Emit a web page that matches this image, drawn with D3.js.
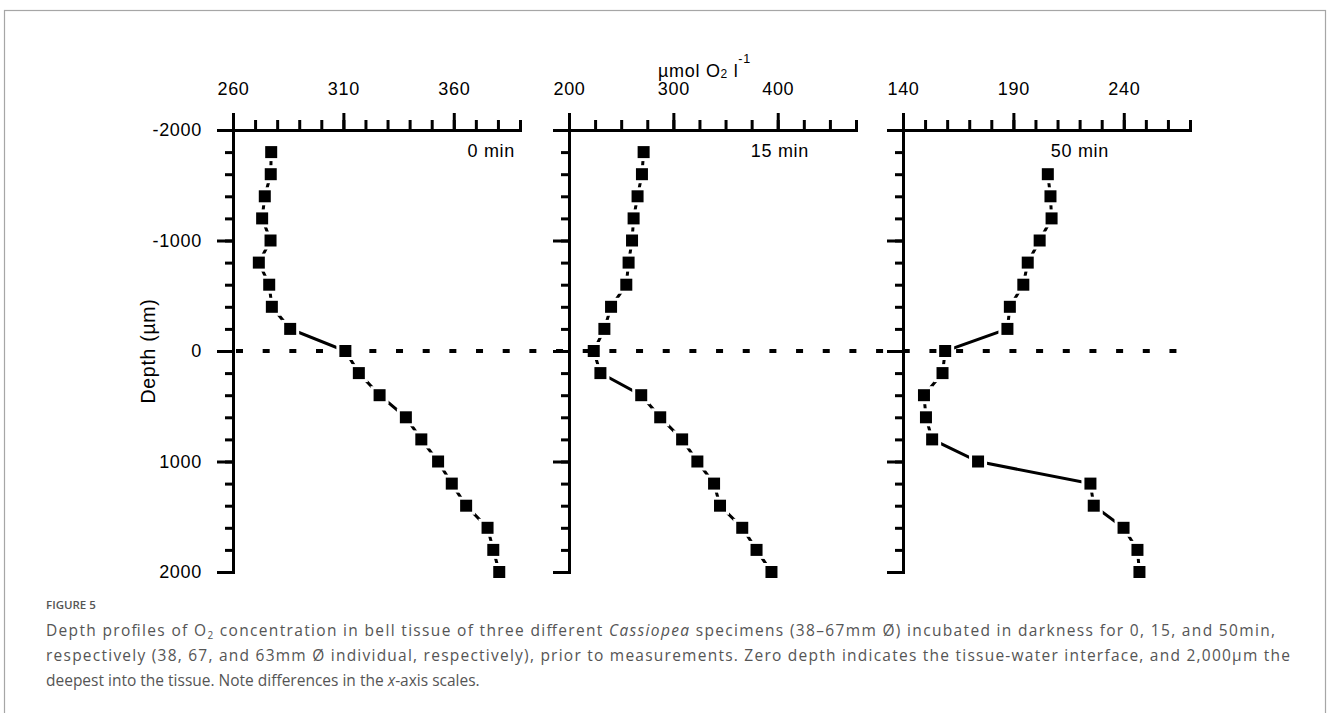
<!DOCTYPE html>
<html>
<head>
<meta charset="utf-8">
<script src="https://cdn.jsdelivr.net/npm/d3@7"></script>
<style>
  body { margin: 0; background: #fff; }
  svg { display: block; }
</style>
</head>
<body>
<svg id="chart" width="1328" height="713"></svg>
<script>
// Depth (µm) of each measurement and O2 concentration (µmol O2 l-1)
const depth0 = [-1800, -1600, -1400, -1200, -1000, -800, -600, -400, -200, 0,
                200, 400, 600, 800, 1000, 1200, 1400, 1600, 1800, 2000];
const oxygen0 = [277.3, 277.1, 274.4, 273.2, 277.0, 271.7, 276.4, 277.6, 285.9, 310.9,
                 317.0, 326.4, 338.3, 345.3, 352.9, 359.1, 365.6, 375.3, 377.9, 380.6];

const depth15 = [-1800, -1600, -1400, -1200, -1000, -800, -600, -400, -200, 0,
                 200, 400, 600, 800, 1000, 1200, 1400, 1600, 1800, 2000];
const oxygen15 = [271.5, 269.9, 265.7, 261.9, 260.4, 257.1, 254.9, 240.3, 233.9, 223.7,
                  230.1, 269.2, 287.4, 308.4, 323.0, 339.0, 344.7, 366.0, 379.7, 394.0];

const depth50 = [-1600, -1400, -1200, -1000, -800, -600, -400, -200, 0,
                 200, 400, 600, 800, 1000, 1200, 1400, 1600, 1800, 2000];
const oxygen50 = [205.6, 206.8, 207.3, 201.9, 196.5, 194.5, 188.4, 187.3, 159.1,
                  157.9, 149.5, 150.4, 153.2, 174.0, 224.9, 226.4, 239.9, 246.2, 247.1];

const panelNames = ["0 min", "15 min", "50 min"];
const xDomain0 = [260, 390];
const xDomain15 = [200, 475];
const xDomain50 = [140, 270];
const xTicks0 = [260, 310, 360];
const xTicks15 = [200, 300, 400];
const xTicks50 = [140, 190, 240];
const xMinorStep = [10, 25, 10];

const yDomain = [-2000, 2000];
const yTicks = [-2000, -1000, 0, 1000, 2000];
const yMinorStep = 200;

const axisTitle = "µmol O";
const yTitle = "Depth (µm)";

// ---- layout ----
const svg = d3.select("#chart");
const FONT = "'Liberation Sans', Arial, sans-serif";
const FONT_SIZE = "18px";
const SPACING = "0.7px";
const panelLeft = [233, 569, 903];
const panelWidth = 287;
const plotTop = 130, plotBottom = 572;
const nameOffset = [-5, -47, -81];

// outer frame
svg.append("rect")
  .attr("x", 4.5).attr("y", 10.5)
  .attr("width", 1321).attr("height", 720)
  .attr("fill", "none").attr("stroke", "#a6a6a6").attr("stroke-width", 1.2);

const y = d3.scaleLinear().domain(yDomain).range([plotTop, plotBottom]);

const panels = [
  { depth: depth0, oxygen: oxygen0, domain: xDomain0, ticks: xTicks0 },
  { depth: depth15, oxygen: oxygen15, domain: xDomain15, ticks: xTicks15 },
  { depth: depth50, oxygen: oxygen50, domain: xDomain50, ticks: xTicks50 }
];

function styleText(sel) {
  sel.attr("fill", "#000")
    .style("font-family", FONT).style("font-size", FONT_SIZE)
    .style("letter-spacing", SPACING);
}

function styleAxis(g) {
  g.select(".domain").attr("stroke", "#000").attr("stroke-width", 3)
    .attr("stroke-linecap", "square");
  g.selectAll(".tick line").attr("stroke", "#000").attr("stroke-width", 3);
  g.selectAll("text").call(styleText);
}

const profiles = [];

panels.forEach((p, i) => {
  const x = d3.scaleLinear().domain(p.domain).range([0, panelWidth]);
  const g = svg.append("g").attr("transform", `translate(${panelLeft[i]},0)`);

  // minor ticks along the concentration axis
  const minor = d3.range(p.domain[0], p.domain[1] + 0.001, xMinorStep[i]);
  g.append("g").attr("transform", `translate(0,${plotTop})`)
    .call(d3.axisTop(x).tickValues(minor).tickSize(10).tickSizeOuter(0).tickFormat(""))
    .call(styleAxis);
  // major ticks with labels
  g.append("g").attr("transform", `translate(0,${plotTop})`)
    .call(d3.axisTop(x).tickValues(p.ticks).tickSize(17).tickSizeOuter(0)
      .tickPadding(18).tickFormat(d => String(d)))
    .call(styleAxis)
    .call(a => a.select(".domain").remove());

  // depth axis: minor then major ticks
  g.append("g")
    .call(d3.axisLeft(y).tickValues(d3.range(yDomain[0], yDomain[1] + 1, yMinorStep))
      .tickSize(8).tickSizeOuter(0).tickFormat(""))
    .call(styleAxis);
  const yMajor = g.append("g")
    .call(d3.axisLeft(y).tickValues(yTicks).tickSize(16).tickSizeOuter(0)
      .tickPadding(15).tickFormat(d => String(d)))
    .call(styleAxis)
    .call(a => a.select(".domain").remove());
  if (i > 0) yMajor.selectAll("text").remove();

  // time label
  g.append("text")
    .attr("x", panelWidth + nameOffset[i]).attr("y", 157)
    .attr("text-anchor", "end")
    .call(styleText)
    .text(panelNames[i]);

  const rows = p.depth.map((d, k) => ({ d, o: p.oxygen[k] }));
  profiles.push({ g, x, rows });

  g.append("path")
    .datum(rows)
    .attr("fill", "none").attr("stroke", "#000").attr("stroke-width", 3)
    .attr("d", d3.line().x(r => x(r.o)).y(r => y(r.d)));
});

// white outline around the markers interrupts the connecting line
profiles.forEach(({ g, x, rows }) => {
  g.selectAll("rect.halo").data(rows).join("rect").attr("class", "halo")
    .attr("x", r => x(r.o) - 9).attr("y", r => y(r.d) - 9)
    .attr("width", 18).attr("height", 18).attr("fill", "#fff");
});

// tissue-water interface
svg.append("line")
  .attr("x1", 236).attr("x2", 1177)
  .attr("y1", y(0)).attr("y2", y(0))
  .attr("stroke", "#000").attr("stroke-width", 4)
  .attr("stroke-dasharray", "7,19.67");

profiles.forEach(({ g, x, rows }) => {
  g.selectAll("rect.mark").data(rows).join("rect").attr("class", "mark")
    .attr("x", r => x(r.o) - 6).attr("y", r => y(r.d) - 6)
    .attr("width", 12).attr("height", 12).attr("fill", "#000");
});

// concentration axis title
const t = svg.append("text")
  .attr("x", 658).attr("y", 77)
  .call(styleText);
t.append("tspan").text(axisTitle);
t.append("tspan").attr("dy", 1).style("font-size", "12px").text("2");
t.append("tspan").attr("dy", -1).text(" l");
t.append("tspan").attr("dy", -14).style("font-size", "12.5px").text("-1");

// depth axis title
svg.append("text")
  .attr("transform", "translate(155,351) rotate(-90)")
  .attr("text-anchor", "middle")
  .call(styleText)
  .style("font-size", "19.5px")
  .text(yTitle);

// caption
const CAP = "'Open Sans', sans-serif";
svg.append("text")
  .attr("x", 46).attr("y", 609)
  .style("font-family", CAP).style("font-size", "11.5px").style("font-weight", 600)
  .attr("fill", "#555").text("FIGURE 5");

const line1 = svg.append("text").attr("x", 46).attr("y", 636)
  .attr("textLength", 1229).attr("lengthAdjust", "spacing")
  .style("font-family", CAP).style("font-size", "15.5px").attr("fill", "#555");
line1.append("tspan").text("Depth profiles of O");
line1.append("tspan").attr("dy", 3).style("font-size", "10px").text("2");
line1.append("tspan").attr("dy", -3).text(" concentration in bell tissue of three different ");
line1.append("tspan").style("font-style", "italic").text("Cassiopea");
line1.append("tspan").text(" specimens (38–67mm Ø) incubated in darkness for 0, 15, and 50min,");

svg.append("text").attr("x", 46).attr("y", 661)
  .attr("textLength", 1244).attr("lengthAdjust", "spacing")
  .style("font-family", CAP).style("font-size", "15.5px").attr("fill", "#555")
  .text("respectively (38, 67, and 63mm Ø individual, respectively), prior to measurements. Zero depth indicates the tissue-water interface, and 2,000μm the");

const line3 = svg.append("text").attr("x", 46).attr("y", 686)
  .style("font-family", CAP).style("font-size", "15.5px").attr("fill", "#555");
line3.append("tspan").text("deepest into the tissue. Note differences in the ");
line3.append("tspan").style("font-style", "italic").text("x");
line3.append("tspan").text("-axis scales.");
</script>
</body>
</html>
